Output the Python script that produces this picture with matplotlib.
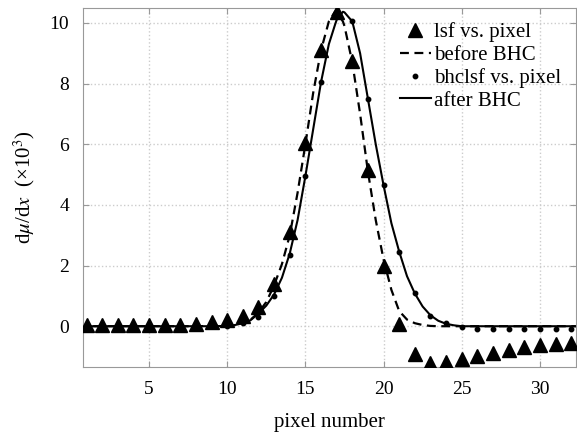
import numpy as np
import matplotlib
matplotlib.use('Agg')
import matplotlib.pyplot as plt

plt.rcParams['font.family'] = ['Liberation Serif', 'DejaVu Serif']
plt.rcParams['mathtext.fontset'] = 'stix'

# measured line spread function, before and after beam hardening correction
pixels = np.arange(1, 33)
lsf = [0.03, 0.03, 0.03, 0.03, 0.03, 0.03, 0.03, 0.08, 0.14, 0.22,
       0.33, 0.63, 1.4, 3.1, 6.05, 9.1, 10.35, 8.75, 5.15, 2.0,
       0.07, -0.9, -1.2, -1.17, -1.08, -0.98, -0.88, -0.77, -0.7, -0.62,
       -0.57, -0.55]
bhclsf = [0.0, 0.0, 0.0, 0.0, 0.0, 0.0, 0.0, 0.0, 0.0, 0.02,
          0.1, 0.3, 1.0, 2.35, 4.95, 8.05, 10.3, 10.05, 7.5, 4.65,
          2.46, 1.08, 0.35, 0.1, -0.03, -0.1, -0.1, -0.1, -0.08, -0.08,
          -0.08, -0.08]

# fitted curves, read at half-pixel steps
fit_x = [0.5, 2, 4, 6, 8, 9, 10, 10.5, 11, 11.5, 12, 12.5, 13, 13.5, 14, 14.5,
         15, 15.5, 16, 16.5, 16.9, 17.0, 17.4, 17.5, 18, 18.5, 19, 19.5, 20,
         20.5, 21, 21.5, 22, 22.5, 23, 23.5, 24, 24.5, 25, 26, 28, 30, 32.5]
before_fit = [0.0, 0.0, 0.0, 0.0, 0.0, 0.01, 0.03, 0.06, 0.1, 0.22, 0.45, 0.8,
              1.35, 2.05, 3.0, 4.4, 6.0, 7.7, 9.1, 10.05, 10.38, 10.36, 10.05,
              9.9, 8.7, 7.0, 5.1, 3.5, 2.2, 1.2, 0.5, 0.22, 0.1, 0.04, 0.01,
              0.0, 0.0, 0.0, 0.0, 0.0, 0.0, 0.0, 0.0]
after_fit = [0.0, 0.0, 0.0, 0.0, 0.0, 0.0, 0.01, 0.04, 0.1, 0.2, 0.42, 0.68,
             1.05, 1.6, 2.4, 3.5, 4.95, 6.5, 8.05, 9.3, 9.95, 10.1, 10.37,
             10.35, 10.05, 9.0, 7.5, 6.0, 4.65, 3.4, 2.46, 1.65, 1.08, 0.65,
             0.36, 0.18, 0.08, 0.03, 0.0, 0.0, 0.0, 0.0, 0.0]

fig = plt.figure(figsize=(5.77, 4.34), dpi=100)
ax = fig.add_axes([0.144, 0.154, 0.854, 0.828])

ax.plot(pixels, lsf, '^', color='black', markersize=9.5, label='lsf vs. pixel', zorder=3)
ax.plot(fit_x, before_fit, '--', color='black', lw=1.6, dashes=(4, 2.5), label='before BHC')
ax.plot(pixels, bhclsf, 'o', color='black', markersize=3.2, label='bhclsf vs. pixel', zorder=3)
ax.plot(fit_x, after_fit, '-', color='black', lw=1.5, label='after BHC')

ax.set_xlim(0.78, 32.3)
ax.set_ylim(-1.35, 10.5)
ax.set_xticks([5, 10, 15, 20, 25, 30])
ax.set_yticks([0, 2, 4, 6, 8, 10])
ax.tick_params(direction='in', top=True, right=True, labelsize=14, length=4,
               color='#999999', pad=10)
for s in ax.spines.values():
    s.set_color('#999999')
ax.grid(True, linestyle=':', color='#cccccc', lw=1)

ax.set_xlabel('pixel number', fontsize=15, labelpad=11)
ax.set_ylabel(r'd$\mu$/d$x$  (×10$^3$)', fontsize=15, labelpad=9)

ax.legend(loc='upper right', frameon=False, fontsize=15, handlelength=1.5,
          handletextpad=0.15, labelspacing=0.15, borderaxespad=0.3)

fig.savefig('out.png', dpi=100)
